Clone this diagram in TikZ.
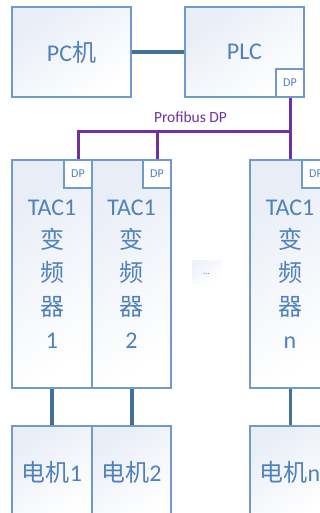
\documentclass[tikz,border=0pt]{standalone}
\usepackage{fontspec}
\setmainfont{Carlito}
\newfontfamily\cjk{Noto Sans CJK SC}
\definecolor{bordc}{HTML}{6E9BCB}
\definecolor{txtc}{HTML}{4F81BD}
\definecolor{linkc}{HTML}{41719C}
\definecolor{busc}{HTML}{7030A0}
\definecolor{shadec}{HTML}{E8EDF6}
\tikzset{
  box/.style={draw=bordc, line width=1.2pt, top color=shadec, bottom color=white, shading angle=35,
    inner sep=0pt, text=txtc, align=center, font=\fontsize{24}{33.3}\selectfont},
  dpbox/.style={draw=bordc, line width=1.2pt, fill=white, inner sep=0pt, text=txtc,
    minimum width=28pt, minimum height=28pt, font=\fontsize{12}{14}\selectfont},
  link/.style={draw=linkc, line width=4pt},
  bus/.style={draw=busc, line width=3pt},
}
\begin{document}
\begin{tikzpicture}[x=1pt,y=-1pt]
\useasboundingbox (0,0) rectangle (320,513);
\clip (0,0) rectangle (320,513);
% top boxes
\node[box, minimum width=119pt, minimum height=90pt] (pc) at (71.5,52) {PC{\cjk 机}};
\node[box, minimum width=119pt, minimum height=90pt] (plc) at (244.5,52) {PLC};
\node[dpbox] (plcdp) at (290,83) {DP};
% drives
\node[box, minimum width=80pt, minimum height=228pt] (tac1) at (52,274) {TAC1\\{\cjk 变}\\{\cjk 频}\\{\cjk 器}\\1};
\node[box, minimum width=79pt, minimum height=228pt] (tac2) at (131.5,274) {TAC1\\{\cjk 变}\\{\cjk 频}\\{\cjk 器}\\2};
\node[box, minimum width=80pt, minimum height=228pt] (tacn) at (290,274) {TAC1\\{\cjk 变}\\{\cjk 频}\\{\cjk 器}\\n};
\node[dpbox] (dp1) at (78,174) {DP};
\node[dpbox] (dp2) at (157,174) {DP};
\node[dpbox] (dpn) at (316,174) {DP};
% ellipsis box
\node[top color=shadec!70, bottom color=white, shading angle=35, inner sep=0pt,
  minimum width=29pt, minimum height=23pt, text=txtc, font=\fontsize{9}{10}\selectfont]
  (dots) at (206.5,271.5) {\raisebox{-6pt}{...}};
% motors
\node[box, minimum width=80pt, minimum height=92pt] (m1) at (52,472) {{\cjk 电机}1};
\node[box, minimum width=79pt, minimum height=92pt] (m2) at (131.5,472) {{\cjk 电机}2};
\node[box, minimum width=80pt, minimum height=92pt] (mn) at (290,472) {{\cjk 电机}n};
% connectors
\draw[link] (pc.east) -- (plc.west);
\draw[link] (tac1.south) -- (m1.north);
\draw[link] (tac2.south) -- (m2.north);
\draw[link, line width=3pt] (tacn.south) -- (mn.north);
% profibus
\coordinate (j2) at (157,132);
\coordinate (jn) at (290,132);
\draw[bus] (plcdp.south) -- (tacn.north);
\draw[bus] (dp1.north) |- (jn);
\draw[bus] (j2) -- (dp2.north);
\node[text=busc, font=\fontsize{15.5}{17}\selectfont, inner sep=0pt] (pdp) at (190.5,117.5) {Profibus DP};
\end{tikzpicture}
\end{document}
